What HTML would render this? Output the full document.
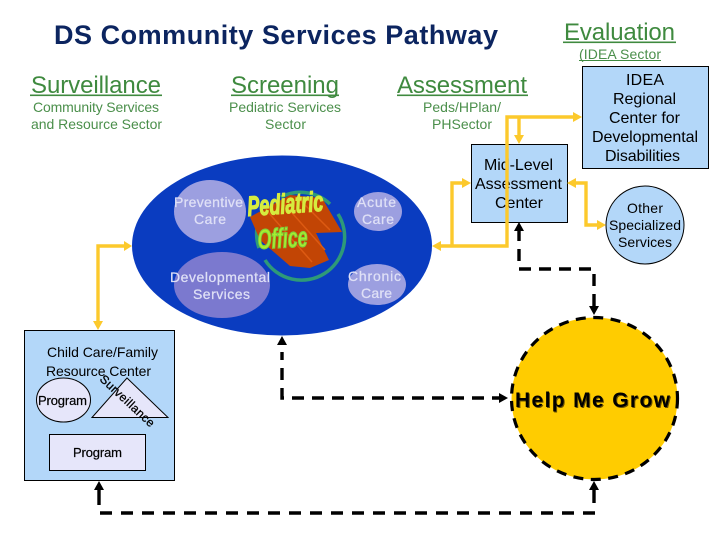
<!DOCTYPE html>
<html><head><meta charset="utf-8"><style>
html,body{margin:0;padding:0;background:#fff}
svg{display:block}
text{font-family:"Liberation Sans",sans-serif}
</style></head><body>
<svg width="720" height="540" viewBox="0 0 720 540" xmlns="http://www.w3.org/2000/svg">
<rect width="720" height="540" fill="#fff"/>

<!-- headings -->
<text x="54" y="44" font-size="27" font-weight="bold" fill="#0c2560" textLength="444">DS Community Services Pathway</text>
<g fill="#3f8a3f" font-size="24">
<text x="31" y="93" textLength="130">Surveillance</text>
<text x="231" y="93" textLength="108">Screening</text>
<text x="397" y="93" textLength="130">Assessment</text>
<text x="564" y="40" textLength="111">Evaluation</text>
</g>
<g fill="#3f8a3f">
<rect x="30" y="94.5" width="132" height="1.6"/>
<rect x="231" y="94.5" width="108" height="1.6"/>
<rect x="397" y="94.5" width="131" height="1.6"/>
<rect x="563" y="41.5" width="113" height="1.6"/>
<rect x="579" y="60" width="82" height="1"/>
</g>
<g fill="#4b8f4b" font-size="14">
<text x="33" y="112" textLength="126">Community Services</text>
<text x="31" y="129" textLength="131">and Resource Sector</text>
<text x="229" y="112" textLength="112">Pediatric Services</text>
<text x="265" y="129" textLength="41">Sector</text>
<text x="423" y="112" textLength="78">Peds/HPlan/</text>
<text x="432" y="129" textLength="60">PHSector</text>
<text x="579" y="59" textLength="82">(IDEA Sector</text>
</g>

<!-- pediatric office ellipse -->
<ellipse cx="282" cy="245.5" rx="150" ry="90" fill="#0a3cc0"/>
<ellipse cx="210" cy="211.5" rx="36" ry="31.5" fill="#9c9fe0"/>
<ellipse cx="222" cy="285" rx="48" ry="33" fill="#7b79cf"/>
<ellipse cx="378" cy="211.5" rx="24" ry="19.5" fill="#9c9fe0"/>
<ellipse cx="377" cy="284.5" rx="29" ry="20.5" fill="#9c9fe0"/>

<!-- logo -->
<g fill="none" stroke="#2e9a78" stroke-width="3.5">
<path d="M281,197 A43,43 0 0 1 330,204"/>
<path d="M338,214 A43,43 0 0 1 265,260"/>
<path d="M257,228 A43,43 0 0 0 259,248"/>
</g>
<polygon points="250,217 290,195 322,198 342,232 316,233 329,260 310,268 290,266 260,240" fill="#c24505"/>
<g stroke="#dd5a12" stroke-width="1.5" fill="none">
<line x1="268" y1="212" x2="312" y2="262"/>
<line x1="285" y1="205" x2="325" y2="250"/>
<line x1="300" y1="200" x2="330" y2="230"/>
</g>
<g font-weight="bold" font-style="italic">
<text x="248" y="216" font-size="28" fill="#d6ec3e" stroke="#d6ec3e" stroke-width="1.2" textLength="76" lengthAdjust="spacingAndGlyphs" transform="rotate(-4 248 216)">Pediatric</text>
<text x="258" y="249" font-size="28" fill="#a6ee30" stroke="#7fd03a" stroke-width="1.2" textLength="50" lengthAdjust="spacingAndGlyphs" transform="rotate(-3 258 249)">Office</text>
</g>
<g fill="#dfe0f6" font-size="14" stroke="#dfe0f6" stroke-width=".25">
<text x="174" y="207" textLength="69">Preventive</text>
<text x="194" y="224" textLength="32">Care</text>
<text x="170" y="282" textLength="100">Developmental</text>
<text x="193" y="299" textLength="57">Services</text>
<text x="357" y="207" textLength="39">Acute</text>
<text x="362" y="224" textLength="32">Care</text>
<text x="348" y="281" textLength="53">Chronic</text>
<text x="361" y="298" textLength="31">Care</text>
</g>

<!-- right boxes -->
<rect x="582.5" y="66.5" width="126" height="102" fill="#b3d7f9" stroke="#000"/>
<rect x="471.5" y="144.5" width="96" height="78" fill="#b3d7f9" stroke="#000"/>
<circle cx="645" cy="225" r="39" fill="#b3d7f9" stroke="#000"/>
<g font-size="16" fill="#000">
<text x="626" y="85" textLength="38">IDEA</text>
<text x="613" y="104" textLength="63">Regional</text>
<text x="609" y="123" textLength="71">Center for</text>
<text x="592" y="142" textLength="106">Developmental</text>
<text x="605" y="161" textLength="75">Disabilities</text>
<text x="484" y="170" textLength="69">Mid-Level</text>
<text x="475" y="189" textLength="87">Assessment</text>
<text x="495" y="208" textLength="48">Center</text>
</g>
<g font-size="14" fill="#000">
<text x="627" y="213" textLength="36">Other</text>
<text x="609" y="230" textLength="72">Specialized</text>
<text x="618" y="247" textLength="54">Services</text>
</g>

<!-- yellow connectors -->
<g fill="none" stroke="#fcc92c" stroke-width="3.4">
<polyline points="98,322 98,246 125,246"/>
<polyline points="574,117 507,117 507,246 440,246"/>
<line x1="519" y1="117" x2="519" y2="136"/>
<polyline points="452,246 452,183 463,183"/>
<polyline points="575,183 586,183 586,225 598,225"/>
</g>
<g fill="#fcc92c">
<polygon points="132,246 124,241 124,251"/>
<polygon points="98,330 93,321 103,321"/>
<polygon points="432,246 441,241 441,251"/>
<polygon points="582,117 573,112 573,122"/>
<polygon points="519,144 514,135 524,135"/>
<polygon points="471,183 462,178 462,188"/>
<polygon points="567,183 576,178 576,188"/>
<polygon points="606,225 597,220 597,230"/>
</g>

<!-- child care box -->
<rect x="24.5" y="330.5" width="150" height="150" fill="#b3d7f9" stroke="#000"/>
<ellipse cx="63.5" cy="400" rx="27" ry="22" fill="#e6e6fa" stroke="#000"/>
<polygon points="92,417.5 127,378 168,417.5" fill="#e6e6fa" stroke="#000"/>
<rect x="49.5" y="434.5" width="96" height="36" fill="#e6e6fa" stroke="#000"/>
<g font-size="14" fill="#000">
<text x="47" y="357" textLength="111">Child Care/Family</text>
<text x="46" y="376" textLength="105">Resource Center</text>
</g>
<g font-size="13" fill="#000" stroke="#000" stroke-width=".2">
<text x="38" y="405" textLength="49">Program</text>
<text x="73" y="457" textLength="49">Program</text>
</g>
<text x="99" y="380" font-size="12" fill="#000" stroke="#000" stroke-width=".3" textLength="70" transform="rotate(43 99 380)">Surveillance</text>

<!-- help me grow -->
<ellipse cx="594.5" cy="398.5" rx="83" ry="81" fill="#ffcc00" stroke="#000" stroke-width="3.2" stroke-dasharray="10 7.5"/>
<text x="516" y="408" font-size="21" font-weight="bold" fill="#6b5200" textLength="155">Help Me Grow</text>
<text x="515" y="407" font-size="21" font-weight="bold" fill="#000" textLength="155">Help Me Grow</text>

<!-- dashed connectors -->
<g fill="none" stroke="#000" stroke-width="3.4">
<polyline points="519,229 519,269 594,269 594,308" stroke-dasharray="12 8"/>
<polyline points="282,352 282,398 501,398" stroke-dasharray="12 8" stroke-dashoffset="4"/>
<polyline points="100,513 596,513" stroke-dasharray="12 9"/>
<line x1="99" y1="489" x2="99" y2="505"/>
<line x1="594" y1="489" x2="594" y2="503"/>
</g>
<g fill="#000">
<polygon points="519,222 514,231 524,231"/>
<polygon points="594,315 589,306 599,306"/>
<polygon points="282,336 277,345 287,345"/>
<polygon points="508,398 499,393 499,403"/>
<polygon points="99,481 94,490 104,490"/>
<polygon points="594,481 589,490 599,490"/>
</g>
</svg>
</body></html>
